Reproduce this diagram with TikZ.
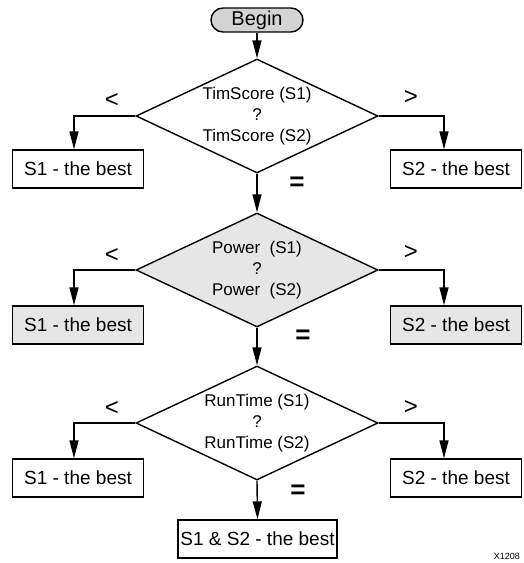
\documentclass[tikz,border=0pt]{standalone}
\usepackage{fontspec}
\setmainfont{Liberation Sans}
\usetikzlibrary{shapes.geometric,arrows.meta}
\definecolor{begingray}{RGB}{212,212,212}
\definecolor{lightfill}{RGB}{230,230,230}
\tikzset{
  every picture/.style={line width=1.4pt},
  dec/.style={diamond, draw, aspect=2.12, minimum width=242pt, minimum height=114pt, inner sep=0pt, align=center, font=\fontsize{17}{21}\selectfont},
  res/.style={draw, minimum width=131pt, minimum height=38pt, inner sep=0pt, font=\fontsize{19}{20}\selectfont},
  term/.style={draw, rounded corners=12pt, fill=begingray, minimum width=92pt, minimum height=24pt, inner sep=0pt, font=\fontsize{20}{20}\selectfont},
  cmp/.style={font=\fontsize{24}{24}\selectfont},
  eqs/.style={font=\bfseries\fontsize{26}{26}\selectfont},
  arr/.style={-{Triangle[length=18pt,width=9pt]}, line width=1.4pt},
}
\begin{document}
\begin{tikzpicture}[x=1pt,y=-1pt]
\useasboundingbox (0,0) rectangle (523,563);
\node[term] (begin) at (257,20) {Begin};
% row 1
\node[dec] (d1) at (257,116) {TimScore (S1)\\?\\TimScore (S2)};
\node[res] (l1) at (78,169) {S1 - the best};
\node[res] (r1) at (456,169) {S2 - the best};
% row 2
\node[dec, fill=lightfill] (d2) at (257,270) {Power\ \ (S1)\\?\\Power\ \ (S2)};
\node[res, fill=lightfill] (l2) at (78,325) {S1 - the best};
\node[res, fill=lightfill] (r2) at (456,325) {S2 - the best};
% row 3
\node[dec] (d3) at (257,423) {RunTime (S1)\\?\\RunTime (S2)};
\node[res] (l3) at (78,478) {S1 - the best};
\node[res] (r3) at (456,478) {S2 - the best};
\node[res, minimum width=159pt] (fin) at (257.5,539) {S1 \& S2 - the best};
% labels
\node[cmp] (lt1) at (112,101) {<};
\node[cmp] (gt1) at (411,98) {>};
\node[eqs] (eq1) at (297,184) {=};
\node[cmp] (lt2) at (112,255) {<};
\node[cmp] (gt2) at (411,252) {>};
\node[eqs] (eq2) at (303,337) {=};
\node[cmp] (lt3) at (112,408) {<};
\node[cmp] (gt3) at (411,407) {>};
\node[eqs] (eq3) at (298,492) {=};
\node[anchor=east, font=\fontsize{9}{9}\selectfont] (xid) at (524,556) {X1208};
% connectors
\draw[arr] (begin) -- (d1);
\draw[arr] (d1.south) -- (d2.north);
\draw[arr] (d2.south) -- (d3.north);
\draw[arr] (d3.south) -- (fin.north);
\foreach \d/\l/\r in {d1/l1/r1, d2/l2/r2, d3/l3/r3}{
  \draw[arr] (\d.west) -| ([xshift=-4pt]\l.north);
  \draw[arr] (\d.east) -| ([xshift=-12pt]\r.north);
}
\end{tikzpicture}
\end{document}
